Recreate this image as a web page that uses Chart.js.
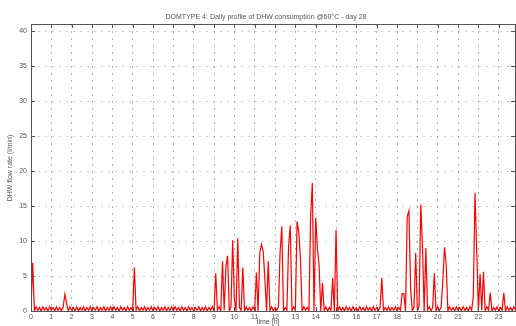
<!DOCTYPE html>
<html>
<head>
<meta charset="utf-8">
<script src="https://cdn.jsdelivr.net/npm/chart.js@4/dist/chart.umd.min.js"></script>
<style>
html,body{margin:0;padding:0;background:#fff;}
#wrap{width:516px;height:326px;position:relative;}
</style>
</head>
<body>
<div id="wrap"><canvas id="c" width="516" height="326"></canvas></div>
<script>
// ---- data (5-minute steps, one row per hour) ----
const chartTitle = "DOMTYPE 4: Daily profile of DHW consumption @60°C - day 28";
const yLabel = "DHW flow rate (l/min)";
const xLabel = "time [h]";
const stepsPerHour = 12;
const xTicks = [0,1,2,3,4,5,6,7,8,9,10,11,12,13,14,15,16,17,18,19,20,21,22,23];
const yTicks = [0,5,10,15,20,25,30,35,40];
const flow = [
  0.4, 6.9, 0.0, 0.6, 0.1, 0.5, 0.0, 0.6, 0.1, 0.5, 0.0, 0.6,
  0.1, 0.5, 0.0, 0.6, 0.1, 0.5, 0.0, 0.6, 2.4, 1.1, 0.0, 0.6,
  0.1, 0.5, 0.0, 0.6, 0.0, 0.5, 0.1, 0.6, 0.0, 0.5, 0.1, 0.6,
  0.0, 0.5, 0.1, 0.6, 0.0, 0.5, 0.1, 0.6, 0.0, 0.5, 0.1, 0.6,
  0.0, 0.6, 0.1, 0.5, 0.0, 0.6, 0.1, 0.5, 0.0, 0.6, 0.1, 0.5,
  0.0, 6.2, 0.1, 0.6, 0.0, 0.5, 0.1, 0.6, 0.0, 0.5, 0.1, 0.6,
  0.0, 0.5, 0.1, 0.6, 0.0, 0.5, 0.1, 0.6, 0.0, 0.5, 0.1, 0.6,
  0.0, 0.6, 0.1, 0.5, 0.0, 0.6, 0.1, 0.5, 0.0, 0.6, 0.1, 0.5,
  0.0, 0.5, 0.1, 0.6, 0.0, 0.5, 0.1, 0.6, 0.0, 0.5, 0.1, 0.6,
  0.0, 5.4, 0.1, 0.6, 0.0, 7.1, 0.1, 6.3, 7.9, 0.0, 0.6, 10.1,
  1.8, 0.0, 10.4, 0.5, 0.1, 6.2, 0.0, 0.6, 0.1, 0.5, 0.0, 0.6,
  0.1, 5.5, 0.0, 8.3, 9.5, 8.6, 4.6, 0.0, 7.1, 0.1, 0.6, 0.0,
  0.5, 0.1, 0.6, 8.5, 12.1, 0.0, 0.5, 0.1, 9.3, 12.2, 0.0, 0.6,
  0.1, 12.8, 11.3, 7.4, 0.0, 0.6, 0.1, 0.5, 0.0, 13.5, 18.3, 0.0,
  13.3, 9.0, 6.5, 0.0, 4.0, 0.1, 0.6, 0.0, 0.5, 0.1, 4.7, 0.0,
  11.6, 0.0, 0.6, 0.1, 0.5, 0.0, 0.6, 0.1, 0.5, 0.0, 0.6, 0.1,
  0.5, 0.0, 0.6, 0.1, 0.5, 0.0, 0.6, 0.1, 0.5, 0.0, 0.6, 0.1,
  0.5, 0.0, 0.6, 4.7, 0.0, 0.5, 0.1, 0.6, 0.0, 0.5, 0.1, 0.6,
  0.0, 0.5, 0.1, 2.5, 2.5, 0.0, 13.5, 14.3, 3.2, 0.0, 0.6, 8.3,
  0.0, 0.6, 15.2, 9.2, 0.0, 9.0, 0.1, 0.6, 0.0, 0.5, 5.4, 0.0,
  0.6, 0.1, 0.5, 4.2, 9.1, 6.6, 0.0, 0.6, 0.1, 0.5, 0.0, 0.6,
  0.1, 0.5, 0.0, 0.6, 0.1, 0.5, 0.0, 0.6, 0.1, 2.1, 16.9, 8.7,
  0.0, 5.3, 0.1, 5.6, 0.0, 0.6, 0.1, 2.6, 0.0, 0.5, 0.1, 0.6,
  0.0, 0.5, 0.1, 2.6, 0.0, 0.6, 0.1, 0.5, 0.0, 0.6, 0.1, 0.5
];
// ---- build points ----
const points = flow.map((v, i) => ({x: i / stepsPerHour, y: v}));

const FONT = '"Liberation Sans", "DejaVu Sans", sans-serif';
const TXT = '#555';

const boxPlugin = {
  id: 'box',
  afterDraw(chart) {
    const {ctx, chartArea: a, scales} = chart;
    ctx.save();
    ctx.strokeStyle = '#555';
    ctx.lineWidth = 1;
    ctx.strokeRect(Math.round(a.left) + 0.5, Math.round(a.top) + 0.5,
                   Math.round(a.right - a.left), Math.round(a.bottom - a.top));
    ctx.beginPath();
    xTicks.forEach(t => {
      const px = Math.round(scales.x.getPixelForValue(t)) + 0.5;
      ctx.moveTo(px, a.bottom); ctx.lineTo(px, a.bottom - 4);
      ctx.moveTo(px, a.top); ctx.lineTo(px, a.top + 4);
    });
    yTicks.forEach(t => {
      const py = Math.round(scales.y.getPixelForValue(t)) + 0.5;
      ctx.moveTo(a.left, py); ctx.lineTo(a.left + 4, py);
      ctx.moveTo(a.right, py); ctx.lineTo(a.right - 4, py);
    });
    ctx.stroke();
    ctx.fillStyle = TXT;
    ctx.font = '7px ' + FONT;
    ctx.textAlign = 'center';
    ctx.textBaseline = 'middle';
    ctx.fillText(chartTitle, (a.left + a.right) / 2 - 7, 17);
    ctx.fillText(xLabel, 268, 322);
    ctx.save();
    ctx.translate(10, 168);
    ctx.rotate(-Math.PI / 2);
    ctx.fillText(yLabel, 0, 0);
    ctx.restore();
    ctx.restore();
  }
};

new Chart(document.getElementById('c'), {
  type: 'line',
  data: {
    datasets: [{
      data: points,
      borderColor: '#ff0000',
      borderWidth: 1.2,
      pointRadius: 0,
      tension: 0,
      fill: false
    }]
  },
  options: {
    responsive: false,
    animation: false,
    events: [],
    layout: {padding: {top: 24, right: 1, left: 0, bottom: 0}},
    plugins: {legend: {display: false}, title: {display: false}, tooltip: {enabled: false}},
    scales: {
      x: {
        type: 'linear', min: 0, max: 23.8,
        afterBuildTicks(s) { s.ticks = xTicks.map(v => ({value: v})); },
        afterFit(s) { s.height = 15; },
        grid: {color: 'rgba(0,0,0,0.3)', drawTicks: false, lineWidth: 1},
        border: {display: false, dash: [2, 5]},
        ticks: {color: TXT, font: {size: 7, family: FONT}, padding: 2, maxRotation: 0, autoSkip: false}
      },
      y: {
        min: 0, max: 41,
        afterBuildTicks(s) { s.ticks = yTicks.map(v => ({value: v})); },
        afterFit(s) { s.width = 31; },
        grid: {color: 'rgba(0,0,0,0.18)', drawTicks: false, lineWidth: 1},
        border: {display: false, dash: [2, 5]},
        ticks: {color: TXT, font: {size: 7, family: FONT}, padding: 4}
      }
    }
  },
  plugins: [boxPlugin]
});
</script>
</body>
</html>
